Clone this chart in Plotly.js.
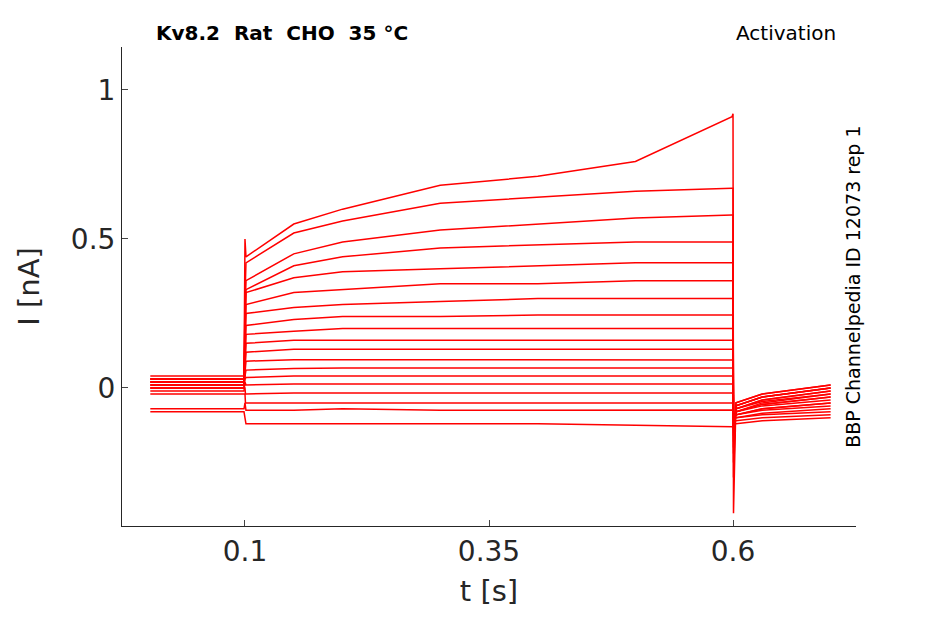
<!DOCTYPE html>
<html>
<head>
<script src="https://cdn.plot.ly/plotly-3.0.1.min.js"></script>
<style>body{margin:0;background:#fff}</style>
</head>
<body>
<div id="plot" style="width:945px;height:624px"></div>
<script>
// sample times during the voltage step
const stepTimes = [0.101, 0.15, 0.2, 0.3, 0.4, 0.5, 0.599];
// current (nA) for each sweep at stepTimes, top sweep first
const stepLevels = [
	[0.44, 0.55, 0.60, 0.68, 0.71, 0.76, 0.91],
	[0.42, 0.52, 0.56, 0.62, 0.64, 0.66, 0.67],
	[0.36, 0.45, 0.49, 0.53, 0.55, 0.57, 0.58],
	[0.33, 0.41, 0.44, 0.47, 0.48, 0.49, 0.49],
	[0.32, 0.37, 0.39, 0.40, 0.41, 0.42, 0.42],
	[0.28, 0.32, 0.33, 0.35, 0.35, 0.36, 0.36],
	[0.25, 0.27, 0.28, 0.29, 0.30, 0.30, 0.30],
	[0.21, 0.23, 0.24, 0.24, 0.245, 0.245, 0.245],
	[0.18, 0.19, 0.20, 0.20, 0.20, 0.20, 0.20],
	[0.15, 0.16, 0.16, 0.16, 0.16, 0.16, 0.16],
	[0.12, 0.13, 0.13, 0.13, 0.13, 0.13, 0.13],
	[0.09, 0.095, 0.095, 0.095, 0.095, 0.095, 0.094],
	[0.06, 0.065, 0.067, 0.067, 0.067, 0.067, 0.067],
	[0.035, 0.04, 0.04, 0.04, 0.04, 0.04, 0.04],
	[0.01, 0.013, 0.013, 0.013, 0.013, 0.013, 0.013],
	[-0.02, -0.017, -0.017, -0.017, -0.017, -0.017, -0.017],
	[-0.05, -0.05, -0.05, -0.05, -0.05, -0.05, -0.05],
	[-0.075, -0.075, -0.07, -0.075, -0.075, -0.075, -0.074],
	[-0.12, -0.12, -0.12, -0.12, -0.12, -0.125, -0.13]
];
// holding current before the step and tail current after it
const preLevels = [0.04, 0.03, 0.03, 0.02, 0.02, 0.03, 0.01, 0.02, 0.0, 0.01, 0.03, 0.0, 0.02, 0.01, -0.01, 0.0, -0.02, -0.07, -0.08];
const tailStart = [-0.05, -0.05, -0.06, -0.06, -0.06, -0.07, -0.07, -0.07, -0.08, -0.08, -0.08, -0.08, -0.09, -0.09, -0.09, -0.1, -0.1, -0.11, -0.12];
const tailEnd = [0.01, 0.01, 0.0, 0.0, 0.0, -0.01, -0.01, -0.02, -0.02, -0.03, -0.03, -0.04, -0.05, -0.05, -0.06, -0.07, -0.08, -0.09, -0.1];
const onSpike = [0.5, 0.3, 0.25, 0.2, 0.18, 0.15, 0.12, 0.1, 0.08, 0.07, 0.06, 0.05, 0.04, 0.03, 0.02, 0.0, -0.02, -0.05, -0.1];
const offSpike = [-0.42, -0.3, -0.25, -0.22, -0.2, -0.18, -0.16, -0.15, -0.14, -0.13, -0.12, -0.12, -0.11, -0.11, -0.1, -0.1, -0.1, -0.11, -0.12];

const traces = stepLevels.map((lv, i) => {
	const x = [0.003, 0.099, 0.1, 0.1005].concat(stepTimes, [0.6, 0.6005, 0.603, 0.63, 0.7]);
	const y = [preLevels[i], preLevels[i], onSpike[i], lv[0]].concat(lv, [i === 0 ? 0.92 : lv[6], offSpike[i], tailStart[i], (tailStart[i] + tailEnd[i]) / 2, tailEnd[i]]);
	return { x: x, y: y, mode: 'lines', type: 'scatter', line: { color: '#ff0000', width: 1.5 }, hoverinfo: 'skip' };
});

const font = 'DejaVu Sans, sans-serif';
Plotly.newPlot('plot', traces, {
	width: 945, height: 624,
	margin: { l: 122, r: 89, t: 47, b: 98 },
	showlegend: false,
	paper_bgcolor: '#fff', plot_bgcolor: '#fff',
	font: { family: font, color: '#262626' },
	xaxis: {
		range: [-0.026, 0.726], tickvals: [0.1, 0.35, 0.6], ticktext: ['0.1', '0.35', '0.6'],
		showgrid: false, zeroline: false, showline: true, linecolor: '#262626', linewidth: 1,
		ticks: 'inside', ticklen: 6, tickfont: { size: 28 },
		title: { text: 't [s]', font: { size: 29 }, standoff: 14 }
	},
	yaxis: {
		range: [-0.463, 1.144], tickvals: [0, 0.5, 1], ticktext: ['0', '0.5', '1'],
		showgrid: false, zeroline: false, showline: true, linecolor: '#262626', linewidth: 1,
		ticks: 'inside', ticklen: 6, tickfont: { size: 28 },
		title: { text: 'I [nA]', font: { size: 29 }, standoff: 22 }
	},
	annotations: [
		{ xref: 'paper', yref: 'paper', x: 0.044, y: 1.0, xanchor: 'left', yanchor: 'bottom', showarrow: false, text: '<b>Kv8.2  Rat  CHO  35 °C</b>', font: { size: 20, color: '#000' } },
		{ xref: 'paper', yref: 'paper', x: 0.975, y: 1.0, xanchor: 'right', yanchor: 'bottom', showarrow: false, text: 'Activation', font: { size: 20, color: '#000' } },
		{ xref: 'paper', yref: 'paper', x: 0.995, y: 0.5, xanchor: 'center', yanchor: 'middle', textangle: -90, showarrow: false, text: 'BBP Channelpedia ID 12073 rep 1', font: { size: 19, color: '#000' } }
	]
}, { displayModeBar: false });
</script>
</body>
</html>
